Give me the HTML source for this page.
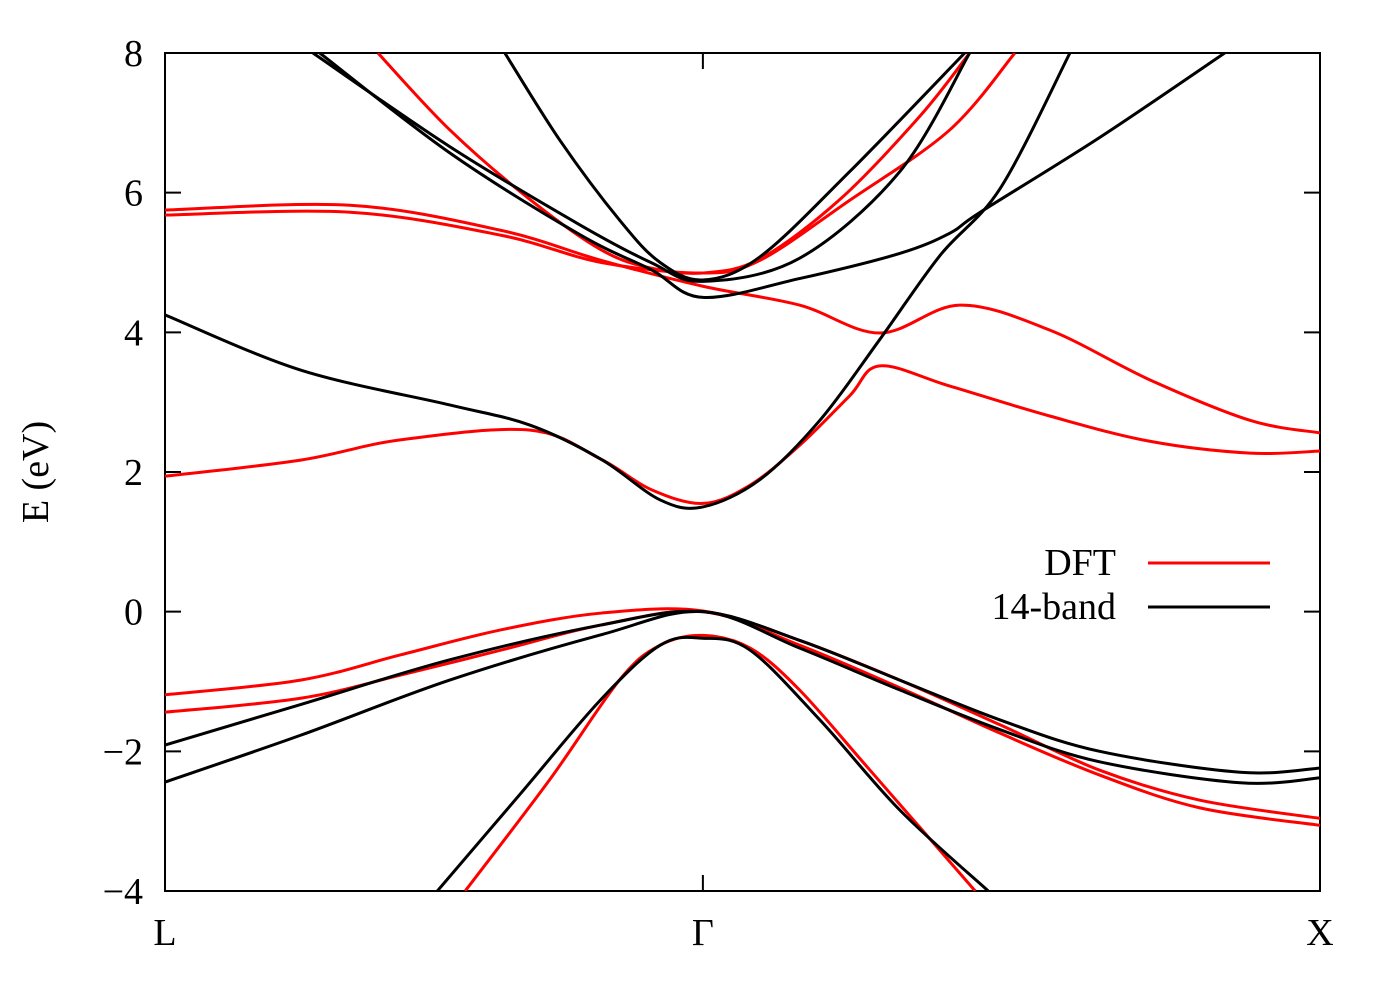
<!DOCTYPE html>
<html><head><meta charset="utf-8"><style>
body{margin:0;background:#fff}
svg text{font-family:"Liberation Serif","DejaVu Serif",serif;font-size:38px;fill:#000}
</style></head><body>
<svg id="chart" width="1400" height="980" viewBox="0 0 1400 980">
<rect x="165" y="53" width="1155" height="838" fill="none" stroke="#000" stroke-width="2"/>
<g id="ticks"></g><g id="bands"></g>
<text x="48" y="472" transform="rotate(-90 48 472)" text-anchor="middle">E (eV)</text>
<g>
<text x="1116" y="575" text-anchor="end">DFT</text>
<line x1="1148" y1="563" x2="1270" y2="563" stroke="#f00" stroke-width="3"/>
<text x="1116" y="619" text-anchor="end">14-band</text>
<line x1="1148" y1="607" x2="1270" y2="607" stroke="#000" stroke-width="3"/>
</g>
</svg>
<script>
const yTicks=[-4,-2,0,2,4,6,8];
const yTickLabels=["\u22124","\u22122","0","2","4","6","8"];
const kTicks=[0,0.869,1.866];
const kTickLabels=["L","\u0393","X"];
// bands: k values (path coordinate) and energies in eV
const dftK1=[0,0.219,0.38,0.543,0.705,0.869,1.025,1.187,1.349,1.51,1.672,1.866];
const dftE1=[-1.19,-0.98,-0.62,-0.26,-0.02,0.01,-0.41,-0.98,-1.62,-2.27,-2.7,-2.96];
const dftE2=[-1.44,-1.24,-0.91,-0.55,-0.19,0.0,-0.48,-1.09,-1.74,-2.34,-2.81,-3.06];
const dftSoK=[0.485,0.622,0.735,0.8,0.869,0.945,1.025,1.139,1.309];
const dftSoE=[-4,-2.4,-0.97,-0.48,-0.34,-0.52,-1.12,-2.27,-4];
const dftCbK=[0,0.219,0.38,0.59,0.705,0.785,0.869,0.945,1.025,1.106,1.155,1.268,1.43,1.591,1.753,1.866];
const dftCbE=[1.94,2.17,2.46,2.6,2.18,1.75,1.55,1.81,2.38,3.09,3.52,3.23,2.8,2.44,2.27,2.3];
const dftAK=[0,0.299,0.543,0.705,0.869,1.025,1.155,1.284,1.43,1.591,1.753,1.866];
const dftAE=[5.75,5.82,5.46,5.03,4.66,4.39,3.99,4.39,4.03,3.32,2.74,2.56];
const dftBK=[0,0.299,0.543,0.705,0.869,0.961,1.106,1.268,1.373];
const dftBE=[5.68,5.72,5.39,5.0,4.85,5.03,5.89,6.9,8];
const dftCK=[0.344,0.46,0.59,0.705,0.785,0.869,0.961,1.09,1.22,1.3];
const dftCE=[8,6.9,5.9,5.18,4.92,4.85,5.05,5.9,7.1,8];
const tbK1=[0,0.219,0.46,0.705,0.869,1.025,1.187,1.349,1.51,1.737,1.866];
const tbE1=[-1.91,-1.33,-0.69,-0.19,0.0,-0.41,-0.98,-1.55,-2.0,-2.3,-2.24];
const tbE2=[-2.44,-1.77,-0.98,-0.33,0.0,-0.52,-1.12,-1.69,-2.15,-2.45,-2.38];
const tbSoK=[0.44,0.574,0.703,0.8,0.869,0.945,1.058,1.187,1.33];
const tbSoE=[-4,-2.61,-1.27,-0.48,-0.38,-0.55,-1.55,-2.84,-4];
const tbCbK=[0,0.219,0.46,0.59,0.705,0.8,0.869,0.961,1.058,1.155,1.252,1.35,1.462];
const tbCbE=[4.25,3.46,2.96,2.67,2.18,1.6,1.5,1.89,2.74,3.9,5.1,6.07,8];
const tbAK=[0.239,0.46,0.67,0.785,0.869,1.025,1.187,1.3];
const tbAE=[8,6.66,5.54,5.0,4.73,5.06,6.3,8];
const tbBK=[0.25,0.46,0.67,0.785,0.869,1.025,1.187,1.268,1.317,1.51,1.712];
const tbBE=[8,6.57,5.4,4.9,4.5,4.77,5.13,5.42,5.72,6.79,8];
const tbCK=[0.549,0.638,0.735,0.8,0.869,0.961,1.106,1.292];
const tbCE=[8,6.75,5.6,5.0,4.75,5.08,6.3,8];
const bands=[
 ["dft-hh-band",dftK1,dftE1,"#f00"],["dft-lh-band",dftK1,dftE2,"#f00"],["dft-split-off-band",dftSoK,dftSoE,"#f00"],
 ["dft-conduction-band",dftCbK,dftCbE,"#f00"],["dft-upper-band-a",dftAK,dftAE,"#f00"],["dft-upper-band-b",dftBK,dftBE,"#f00"],["dft-upper-band-c",dftCK,dftCE,"#f00"],
 ["14band-hh-band",tbK1,tbE1,"#000"],["14band-lh-band",tbK1,tbE2,"#000"],["14band-split-off-band",tbSoK,tbSoE,"#000"],
 ["14band-conduction-band",tbCbK,tbCbE,"#000"],["14band-upper-band-a",tbAK,tbAE,"#000"],["14band-upper-band-b",tbBK,tbBE,"#000"],["14band-upper-band-c",tbCK,tbCE,"#000"]];
const X0=165,X1=1320,Y0=891,Y1=53,KMAX=1.866,EMIN=-4,EMAX=8;
const xs=k=>X0+(X1-X0)*k/KMAX, ys=e=>Y0-(Y0-Y1)*(e-EMIN)/(EMAX-EMIN);
const NS="http://www.w3.org/2000/svg";
const svg=document.getElementById('chart');
const defs=document.createElementNS(NS,'defs');
defs.innerHTML='<clipPath id="clip"><rect x="165" y="53" width="1155" height="838"/></clipPath>';
svg.appendChild(defs);
const tg=document.getElementById('ticks');
yTicks.forEach((v,i)=>{
 const y=ys(v);
 const t=document.createElementNS(NS,'path');
 t.setAttribute('d',`M${X0} ${y}h16M${X1} ${y}h-16`);
 t.setAttribute('stroke','#000');t.setAttribute('stroke-width','2');
 
 
 tg.appendChild(t);
 const l=document.createElementNS(NS,'text');
 l.setAttribute('x',X0-22);l.setAttribute('y',y+13);l.setAttribute('text-anchor','end');
 l.textContent=yTickLabels[i];
 
 
 tg.appendChild(l);
});
kTicks.forEach((k,i)=>{
 const x=xs(k);
 const t=document.createElementNS(NS,'path');
 t.setAttribute('d',`M${x} ${Y0}v-16M${x} ${Y1}v16`);
 t.setAttribute('stroke','#000');t.setAttribute('stroke-width','2');
 
 
 tg.appendChild(t);
 const l=document.createElementNS(NS,'text');
 l.setAttribute('x',x);l.setAttribute('y',945);l.setAttribute('text-anchor','middle');
 l.textContent=kTickLabels[i];
 
 
 tg.appendChild(l);
});
function smooth(p){
 let d=`M${p[0][0]} ${p[0][1]}`;
 for(let i=0;i<p.length-1;i++){
  const a=p[Math.max(0,i-1)],b=p[i],c=p[i+1],e=p[Math.min(p.length-1,i+2)];
  d+=`C${b[0]+(c[0]-a[0])/6} ${b[1]+(c[1]-a[1])/6} ${c[0]-(e[0]-b[0])/6} ${c[1]-(e[1]-b[1])/6} ${c[0]} ${c[1]}`;
 }
 return d;
}
const bg=document.getElementById('bands');
bg.setAttribute('clip-path','url(#clip)');
bands.forEach(([name,K,E,col])=>{
 const pts=K.map((k,i)=>[xs(k),ys(E[i])]);
 const p=document.createElementNS(NS,'path');
 p.setAttribute('d',smooth(pts));
 p.setAttribute('fill','none');p.setAttribute('stroke',col);p.setAttribute('stroke-width','3');
 
 
 bg.appendChild(p);
});
</script>
</body></html>
